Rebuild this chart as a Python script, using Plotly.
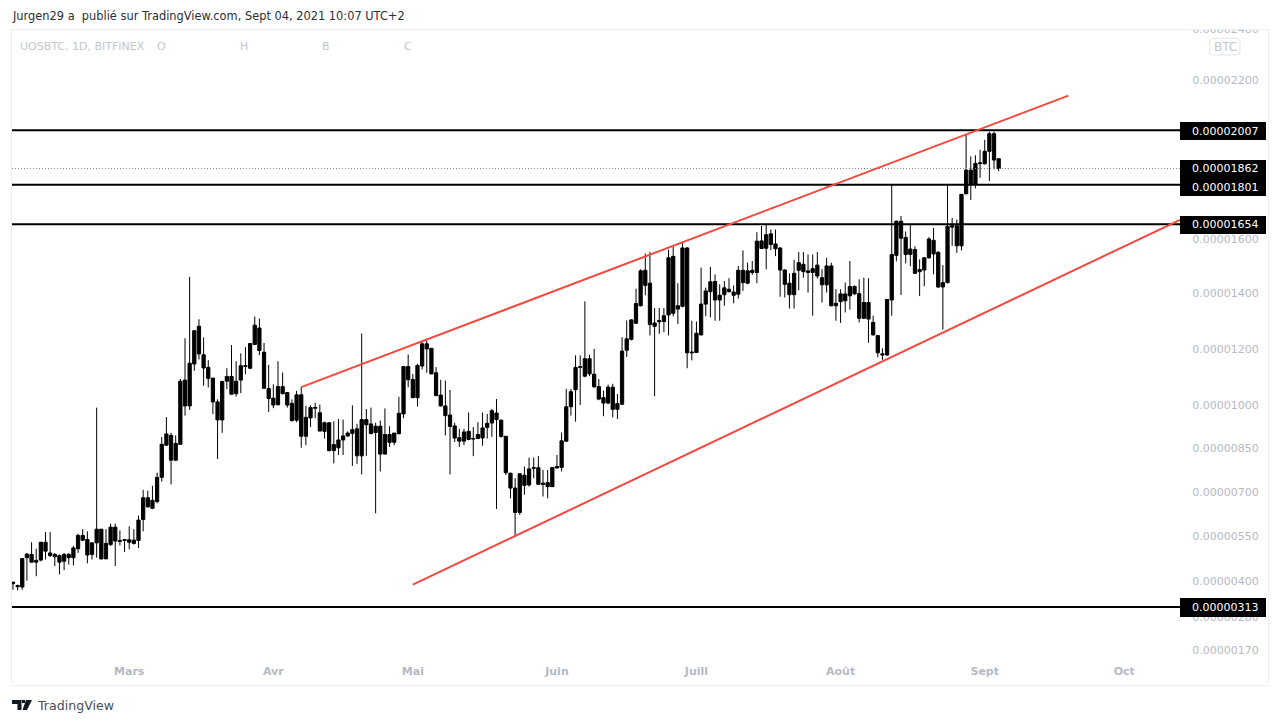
import plotly.graph_objects as go
import pandas as pd
import numpy as np

W, H = 1280, 724

# Candles, prices in 1e-8 BTC. Up and down candles are
# painted alike in the chart so only body top/bottom are kept.
start_date = "2021-02-04"
body_top = [
    395,384,474,489,488,468,529,529,493,488,
    484,488,488,510,552,552,538,527,573,573,
    525,580,580,534,538,537,536,604,680,680,
    671,750,864,900,895,867,1085,1089,1149,1265,
    1281,1179,1134,1096,1012,1084,1102,1102,1085,1140,
    1140,1219,1285,1275,1188,1059,1025,1066,1066,1045,
    1007,1037,1037,958,992,992,974,939,939,863,
    879,893,903,915,918,950,950,935,927,927,
    898,898,903,972,1137,1137,1091,1141,1218,1218,
    1202,1115,1036,998,966,928,887,907,909,884,
    898,921,937,981,973,948,892,764,713,762,
    757,779,783,783,730,732,784,787,876,995,
    1048,1134,1137,1165,1165,1110,1066,1027,1064,1064,
    1006,1192,1236,1304,1363,1482,1484,1437,1293,1301,
    1319,1530,1535,1355,1566,1566,1188,1256,1361,1409,
    1442,1443,1393,1420,1415,1405,1484,1484,1482,1484,
    1591,1592,1615,1618,1581,1566,1485,1437,1473,1512,
    1506,1482,1490,1503,1457,1500,1500,1364,1398,1398,
    1425,1425,1399,1367,1367,1295,1248,1182,1378,1542,
    1665,1665,1605,1562,1560,1487,1530,1599,1594,1550,
    1439,1646,1648,1648,1765,1856,1856,1881,1883,1927,
    1994,1994,1899,
]
body_bottom = [
    390,380,379,477,462,462,469,499,484,480,
    462,465,477,477,507,536,486,488,527,473,
    473,521,533,532,535,529,525,535,606,649,
    644,667,750,861,809,809,864,998,998,1146,
    1182,1132,1095,1012,949,949,1085,1039,1041,1089,
    1137,1131,1216,1194,1060,1024,1001,1002,1041,1001,
    947,948,892,892,956,990,910,909,842,842,
    852,879,893,902,824,824,932,901,905,830,
    830,871,871,901,970,1090,1027,1027,1139,1200,
    1111,1034,998,964,926,886,875,875,881,882,
    884,886,923,938,950,891,766,713,630,630,
    722,724,781,726,725,718,718,782,784,875,
    995,1055,1134,1103,1111,1065,1022,1008,1008,986,
    986,1004,1195,1234,1292,1355,1429,1287,1281,1297,
    1298,1322,1328,1343,1353,1186,1186,1187,1250,1361,
    1406,1376,1376,1395,1406,1393,1397,1439,1437,1476,
    1476,1564,1565,1579,1563,1485,1433,1395,1395,1484,
    1479,1476,1476,1463,1431,1431,1355,1355,1370,1373,
    1391,1398,1310,1310,1307,1250,1186,1178,1178,1376,
    1539,1602,1542,1542,1473,1479,1485,1530,1544,1423,
    1423,1439,1643,1574,1574,1767,1802,1802,1880,1880,
    1927,1894,1862,
]
wick_high = [
    397,387,474,493,529,507,529,564,564,493,
    488,493,493,516,558,573,566,527,992,573,
    573,592,592,569,540,583,573,619,707,704,
    721,766,889,959,904,895,1093,1238,1460,1268,
    1306,1241,1160,1096,1021,1087,1131,1214,1156,1184,
    1206,1221,1316,1309,1221,1143,1074,1156,1116,1047,
    1021,1051,1065,998,1000,1009,1003,943,941,944,
    952,950,909,1000,935,1255,987,992,939,947,
    989,927,903,1030,1137,1180,1111,1147,1230,1230,
    1202,1135,1090,1087,1054,939,918,918,975,924,
    941,975,970,987,1022,950,892,766,747,764,
    787,818,818,823,775,775,784,827,905,1058,
    1058,1177,1177,1371,1179,1200,1093,1052,1073,1076,
    1040,1242,1302,1307,1417,1488,1545,1552,1347,1347,
    1347,1560,1570,1437,1588,1569,1301,1298,1494,1421,
    1496,1469,1433,1445,1455,1429,1500,1557,1512,1518,
    1624,1647,1654,1634,1634,1569,1488,1473,1522,1551,
    1551,1542,1542,1551,1488,1530,1512,1415,1415,1439,
    1518,1429,1451,1457,1455,1319,1248,1202,1378,1800,
    1667,1684,1627,1655,1572,1524,1532,1606,1640,1554,
    1503,1800,1677,1671,1765,1990,1908,1912,1933,1971,
    2002,2002,1899,
]
wick_low = [
    370,368,370,400,462,415,465,471,479,449,
    421,435,454,451,493,533,458,471,477,471,
    473,516,449,518,496,505,521,510,566,646,
    641,661,735,859,726,806,863,964,984,1122,
    1162,1069,1063,969,813,904,1057,1039,1031,1043,
    1110,1128,1214,1178,1059,977,990,1000,1039,992,
    943,941,852,861,924,955,909,884,840,798,
    827,827,890,789,796,760,824,901,627,770,
    830,855,861,898,955,1064,1026,996,1127,1115,
    1110,1034,996,895,760,872,855,861,878,823,
    882,859,884,890,642,887,758,678,548,621,
    690,718,747,724,684,678,718,781,770,872,
    964,943,1001,1099,1103,1062,1018,962,1004,958,
    952,1001,1171,1230,1289,1353,1393,1248,1032,1254,
    1260,1248,1317,1289,1349,1131,1159,1186,1248,1317,
    1313,1301,1301,1355,1403,1364,1381,1409,1433,1467,
    1437,1563,1488,1558,1536,1388,1385,1345,1345,1411,
    1457,1403,1319,1454,1367,1403,1353,1301,1293,1331,
    1341,1395,1295,1307,1222,1248,1170,1161,1176,1319,
    1517,1394,1509,1499,1471,1390,1426,1527,1469,1420,
    1269,1436,1574,1548,1557,1765,1744,1787,1827,1877,
    1815,1859,1852,
]

# Horizontal levels and trend lines drawn on the chart
levels = [2007, 1801, 1654, 313]
last_price = 1862
upper_dates = ["2021-04-07", "2021-09-19"]
upper_prices = [1064, 2140]
lower_dates = ["2021-05-01", "2021-10-13"]
lower_prices = [387, 1670]

# Axis labels
month_dates = ["2021-03-01", "2021-04-01", "2021-05-01", "2021-06-01",
               "2021-07-01", "2021-08-01", "2021-09-01", "2021-10-01"]
month_names = ["Mars", "Avr", "Mai", "Juin", "Juill", "Août", "Sept", "Oct"]
price_ticks = [170, 280, 400, 550, 700, 850, 1000, 1200, 1400, 1600, 2200, 2400]

# The price scale is mildly compressive: a log axis of price + 10700 fits it
SHIFT = 10700
X_RANGE = ["2021-02-03 19:00", "2021-10-13 00:00"]
Y_RANGE = [4.03538, 4.11842]

RED = "#f4493e"
GREY = "#b6b9c3"
FONT = "DejaVu Sans"


def on_scale(prices):
    return np.asarray(prices) + SHIFT


def label(prices):
    return [f"0.{p:08d}" for p in prices]


def px(x):
    return x / W


def py(y):
    return 1 - y / H


def pt(x, y):
    return f"{px(x):.5f},{py(y):.5f}"


def poly(points):
    # closed path in paper coords from pixel points
    s = " ".join(("M" if i == 0 else "L") + pt(a, b) for i, (a, b) in enumerate(points))
    return s + " Z"


def round_rect(x0, y0, x1, y1, r):
    return (f"M{pt(x0 + r, y0)} L{pt(x1 - r, y0)} Q{pt(x1, y0)} {pt(x1, y0 + r)} "
            f"L{pt(x1, y1 - r)} Q{pt(x1, y1)} {pt(x1 - r, y1)} "
            f"L{pt(x0 + r, y1)} Q{pt(x0, y1)} {pt(x0, y1 - r)} "
            f"L{pt(x0, y0 + r)} Q{pt(x0, y0)} {pt(x0 + r, y0)} Z")


dates = pd.date_range(start_date, periods=len(body_top), freq="D")

fig = go.Figure()
fig.add_trace(go.Candlestick(
    x=dates,
    open=on_scale(body_bottom),
    high=on_scale(wick_high),
    low=on_scale(wick_low),
    close=on_scale(body_top),
    increasing=dict(line=dict(color="#000000", width=1), fillcolor="#000000"),
    decreasing=dict(line=dict(color="#000000", width=1), fillcolor="#000000"),
    whiskerwidth=0,
    hoverinfo="skip",
))

# dotted last price line
fig.add_trace(go.Scatter(
    x=X_RANGE, y=on_scale([last_price, last_price]), mode="lines",
    line=dict(color="#8a8a8a", width=1, dash="1px,2px"), hoverinfo="skip",
))
for level in levels:
    fig.add_trace(go.Scatter(
        x=X_RANGE, y=on_scale([level, level]), mode="lines",
        line=dict(color="#000000", width=2), hoverinfo="skip",
    ))
fig.add_trace(go.Scatter(x=upper_dates, y=on_scale(upper_prices), mode="lines",
                         line=dict(color=RED, width=2), hoverinfo="skip"))
fig.add_trace(go.Scatter(x=lower_dates, y=on_scale(lower_prices), mode="lines",
                         line=dict(color=RED, width=2), hoverinfo="skip"))

shapes = []
# covers the top of the 2400 tick label, as the frame clips it in the chart
shapes.append(dict(type="rect", xref="paper", yref="paper", x0=px(1175), x1=px(1275),
                   y0=py(29.5), y1=py(18), fillcolor="white", line_width=0, layer="above"))
# outer frame
shapes.append(dict(type="rect", xref="paper", yref="paper", x0=px(11.5), x1=px(1268.5),
                   y0=py(685.5), y1=py(29.5), line=dict(color="#eceef4", width=1),
                   fillcolor="rgba(0,0,0,0)", layer="above"))
# black price boxes
for top, bottom in [(122, 140), (160, 196), (216, 234), (598, 617)]:
    shapes.append(dict(type="rect", xref="paper", yref="paper", x0=px(1180), x1=px(1266),
                       y0=py(bottom), y1=py(top), fillcolor="#000000", line_width=0, layer="above"))
# BTC badge
shapes.append(dict(type="path", xref="paper", yref="paper",
                   path=round_rect(1209.5, 38.5, 1240, 55, 3),
                   line=dict(color="#e3e5ec", width=1), fillcolor="white", layer="above"))
# TradingView logo
for pts in [
    [(12, 700), (21.5, 700), (21.5, 710), (17.5, 710), (17.5, 704), (12, 704)],
    [(22, 700), (25, 700), (25, 703), (22, 703)],
    [(26, 700), (32, 700), (27, 710), (22.5, 710)],
]:
    shapes.append(dict(type="path", xref="paper", yref="paper", path=poly(pts),
                       fillcolor="#131722", line_width=0, layer="above"))

annotations = []


def add_text(text, x, y, color, size=11, anchor="left", weight=None):
    annotations.append(dict(
        text=text, xref="paper", yref="paper", x=px(x), y=py(y),
        xanchor=anchor, yanchor="middle", showarrow=False,
        font=dict(family=FONT, size=size, color=color, weight=weight),
    ))


add_text("Jurgen29 a  publié sur TradingView.com, Sept 04, 2021 10:07 UTC+2", 10, 16, "#2a2e39", 11.4)
add_text("UOSBTC, 1D, BITFINEX", 18, 46, "#c3c6cf", 11)
add_text("O", 155, 46, "#c3c6cf", 11)
add_text("H", 238, 46, "#c3c6cf", 11)
add_text("B", 320, 46, "#c3c6cf", 11)
add_text("C", 402, 46, "#c3c6cf", 11)
add_text("BTC", 1225, 46.5, "#c3c6cf", 12, anchor="center")
add_text("TradingView", 35, 705, "#4a4e59", 12.6)
for value, y_text in zip([2007, last_price, 1801, 1654, 313], [131, 169, 187, 225, 607.5]):
    add_text(label([value])[0], 1190, y_text, "#ffffff", 11)

fig.update_layout(
    width=W, height=H,
    margin=dict(l=0, r=0, t=0, b=0),
    paper_bgcolor="white", plot_bgcolor="white",
    showlegend=False,
    boxgap=0.3, boxgroupgap=0,
    shapes=shapes,
    annotations=annotations,
    xaxis=dict(
        domain=[px(12), px(1180)], range=X_RANGE, type="date",
        rangeslider=dict(visible=False),
        tickmode="array", tickvals=month_dates, ticktext=month_names,
        tickfont=dict(family=FONT, size=11, color=GREY, weight="bold"),
        ticks="outside", ticklen=4, tickcolor="rgba(0,0,0,0)",
        showgrid=False, zeroline=False, showline=False,
    ),
    yaxis=dict(
        domain=[py(657), py(20)], range=Y_RANGE, type="log", side="right",
        tickmode="array", tickvals=on_scale(price_ticks), ticktext=label(price_ticks),
        tickfont=dict(family=FONT, size=11, color=GREY),
        ticks="outside", ticklen=9, tickcolor="rgba(0,0,0,0)",
        showgrid=False, zeroline=False, showline=False,
    ),
)

fig.write_html("out.html", config=dict(displayModeBar=False),
               post_script="document.body.style.margin='0';")
